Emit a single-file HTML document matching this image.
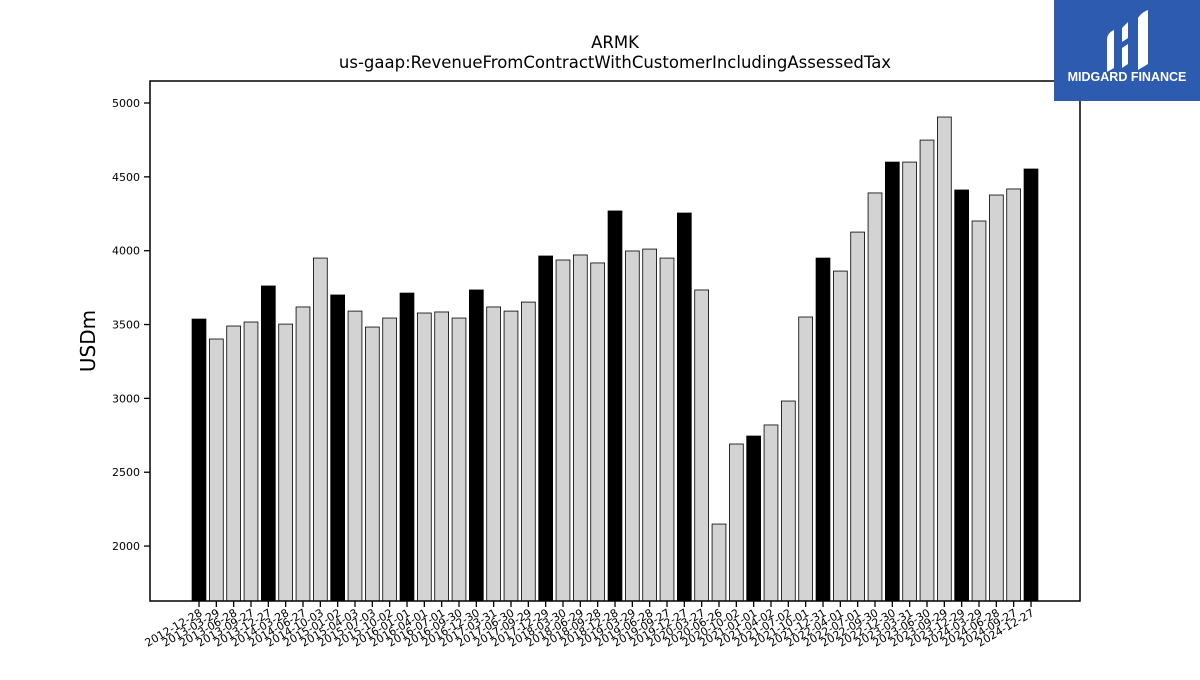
<!DOCTYPE html>
<html><head><meta charset="utf-8"><title>ARMK revenue chart</title>
<style>
html,body{margin:0;padding:0;background:#fff;}
svg text{font-family:"DejaVu Sans","Liberation Sans",sans-serif;}
</style></head>
<body>
<svg id="chart" width="1200" height="675" viewBox="0 0 1200 675" xmlns="http://www.w3.org/2000/svg">
  <rect width="1200" height="675" fill="#fff"/>
  <text x="615" y="48" text-anchor="middle" font-size="16.5">ARMK</text>
  <text x="615" y="68" text-anchor="middle" font-size="16.5">us-gaap:RevenueFromContractWithCustomerIncludingAssessedTax</text>
  <text transform="translate(95,341) rotate(-90)" text-anchor="middle" font-size="20">USDm</text>
  <g id="bars"></g>
  <g id="yaxis"></g>
  <g id="xaxis"></g>
  <rect x="150" y="81" width="930" height="520" fill="none" stroke="#000" stroke-width="1.5"/>
  <g>
    <rect x="1054" y="0" width="146" height="101" fill="#2d5bb0"/>
    <path d="M1107 40 Q1107 33 1114 30 L1114 68 L1107 72 Z" fill="#fff"/>
    <path d="M1122 28 L1128 22 L1128 38 L1122 42 Z" fill="#fff"/>
    <path d="M1122 48 L1128 44 L1128 64 L1122 68 Z" fill="#fff"/>
    <path d="M1138 18 Q1142 12 1148 10 L1148 64 L1138 70 Z" fill="#fff"/>
    <text x="1127" y="81" text-anchor="middle" font-size="12.5" font-weight="bold" fill="#fff" style="font-family:'Liberation Sans',sans-serif">MIDGARD FINANCE</text>
  </g>
</svg>
<script>
const categories = ["2012-12-28","2013-03-29","2013-06-28","2013-09-27","2013-12-27","2014-03-28","2014-06-27","2014-10-03","2015-01-02","2015-04-03","2015-07-03","2015-10-02","2016-01-01","2016-04-01","2016-07-01","2016-09-30","2016-12-30","2017-03-31","2017-06-30","2017-09-29","2017-12-29","2018-03-30","2018-06-29","2018-09-28","2018-12-28","2019-03-29","2019-06-28","2019-09-27","2019-12-27","2020-03-27","2020-06-26","2020-10-02","2021-01-01","2021-04-02","2021-07-02","2021-10-01","2021-12-31","2022-04-01","2022-07-01","2022-09-30","2022-12-30","2023-03-31","2023-06-30","2023-09-29","2023-12-29","2024-03-29","2024-06-28","2024-09-27","2024-12-27"];
const values = [3537,3402,3490,3517,3761,3503,3619,3950,3700,3591,3483,3544,3713,3578,3585,3544,3734,3619,3591,3652,3964,3937,3971,3917,4269,3998,4011,3950,4255,3734,2149,2691,2745,2820,2982,3551,3950,3862,4126,4391,4600,4600,4749,4905,4411,4201,4377,4418,4553];
const yTicks = [2000,2500,3000,3500,4000,4500,5000];
const yMin = 1628, yMax = 5149;
const plotL = 150, plotR = 1080, plotT = 81, plotB = 601;
const NS = "http://www.w3.org/2000/svg";
const n = categories.length;
const x0 = 199, step = (1031 - 199) / (n - 1), bw = step * 0.8;
function xPos(i){ return x0 + i * step; }
function yPos(v){ return plotB - (v - yMin) / (yMax - yMin) * (plotB - plotT); }
const bars = document.getElementById('bars');
values.forEach((v, i) => {
  const r = document.createElementNS(NS, 'rect');
  
  
  r.setAttribute('x', xPos(i) - bw / 2);
  r.setAttribute('y', yPos(v));
  r.setAttribute('width', bw);
  r.setAttribute('height', plotB - yPos(v));
  r.setAttribute('fill', i % 4 === 0 ? '#000' : '#d3d3d3');
  r.setAttribute('stroke', '#000');
  r.setAttribute('stroke-width', '0.8');
  bars.appendChild(r);
});
const ya = document.getElementById('yaxis');
yTicks.forEach(t => {
  const y = yPos(t);
  const l = document.createElementNS(NS, 'line');
  
  
  l.setAttribute('x1', plotL - 6); l.setAttribute('x2', plotL);
  l.setAttribute('y1', y); l.setAttribute('y2', y);
  l.setAttribute('stroke', '#000'); l.setAttribute('stroke-width', '1.3');
  ya.appendChild(l);
  const tx = document.createElementNS(NS, 'text');
  
  
  tx.setAttribute('x', plotL - 10); tx.setAttribute('y', y + 4);
  tx.setAttribute('text-anchor', 'end'); tx.setAttribute('font-size', '11');
  tx.textContent = t;
  ya.appendChild(tx);
});
const xa = document.getElementById('xaxis');
categories.forEach((c, i) => {
  const x = xPos(i);
  const l = document.createElementNS(NS, 'line');
  
  
  l.setAttribute('x1', x); l.setAttribute('x2', x);
  l.setAttribute('y1', plotB); l.setAttribute('y2', plotB + 6);
  l.setAttribute('stroke', '#000'); l.setAttribute('stroke-width', '1.3');
  xa.appendChild(l);
  const tx = document.createElementNS(NS, 'text');
  
  
  tx.setAttribute('transform', 'translate(' + (x + 4) + ',' + (plotB + 14) + ') rotate(-30)');
  tx.setAttribute('text-anchor', 'end'); tx.setAttribute('font-size', '11');
  tx.textContent = c;
  xa.appendChild(tx);
});
</script>
</body></html>
